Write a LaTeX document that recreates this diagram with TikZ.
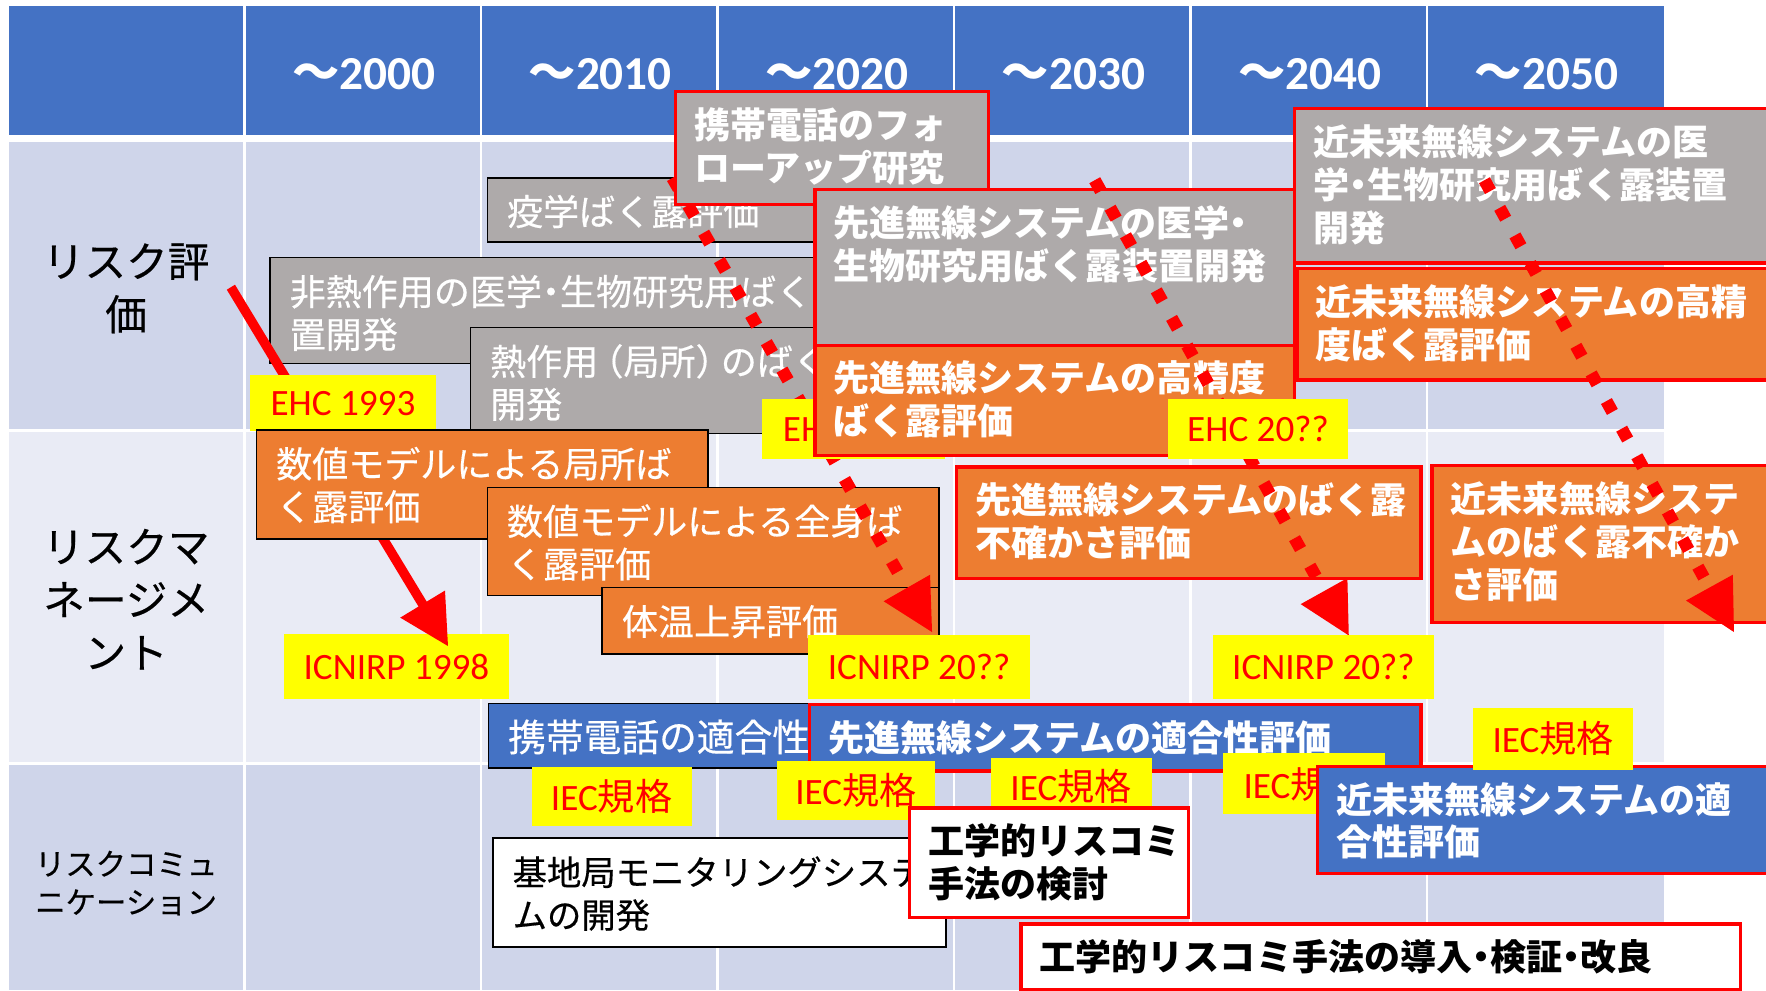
\documentclass[tikz,border=0pt]{standalone}
\usepackage{fontspec}
\setmainfont{Carlito}
\newfontfamily\jp{Noto Sans CJK JP}
\newfontfamily\jpm[FakeBold=0.4]{Noto Sans CJK JP}
\usetikzlibrary{arrows.meta}
\definecolor{hdr}{HTML}{4472C4}
\definecolor{rowA}{HTML}{CFD5EA}
\definecolor{rowB}{HTML}{E9EBF5}
\definecolor{gbox}{HTML}{AEAAAA}
\definecolor{obox}{HTML}{ED7D31}
\definecolor{bbox}{HTML}{4472C4}
\definecolor{ylw}{HTML}{FFFF00}
\definecolor{rd}{HTML}{FF0000}
\newcommand\dt{\hspace{-0.25em}・\hspace{-0.25em}}
\newcommand\lpar{\hspace{-0.3em}（}
\newcommand\rpar{）\hspace{-0.3em}}
\tikzset{
  boxk/.style={draw=black, line width=1.5pt, inner sep=0pt, anchor=north west},
  boxr/.style={draw=rd, line width=3pt, inner sep=0pt, anchor=north west},
  txt/.style={anchor=base west, inner sep=0pt, text width=700pt, align=left,
    font=\jpm\fontsize{32}{38}\selectfont},
  wt/.style={text=white},
  wtb/.style={text=white, font=\jp\bfseries\fontsize{32}{38}\selectfont},
  bkt/.style={text=black},
  bkb/.style={text=black, font=\jp\bfseries\fontsize{32}{38}\selectfont},
  lbl/.style={fill=ylw, text=rd, inner sep=0pt, font=\fontsize{33}{38}\selectfont},
  hdrtxt/.style={text=white, font=\bfseries\fontsize{42}{46}\selectfont},
  rowtxt/.style={text=black, align=center, font=\jpm\fontsize{37}{47}\selectfont},
  solidarrow/.style={draw=rd, line width=8.5pt, -{Triangle[length=44pt,width=44pt]}},
  dotarrow/.style={draw=rd, line width=11pt, dash pattern=on 11pt off 17pt,
    -{Triangle[length=46pt,width=44pt]}},
}
% name, style, fill, x, y, w, h, text style, text
\newcommand\tbox[9]{%
  \node[#2, fill=#3, minimum width=#6pt, minimum height=#7pt] (#1) at (#4,#5) {};
  \node[txt, #8] (#1t) at ([xshift=18pt,yshift=-43pt]#1.north west) {#9};
}
\begin{document}
\begin{tikzpicture}[x=1pt,y=-1pt]
\useasboundingbox (0,0) rectangle (1568,879);
\clip (0,0) rectangle (1568,879);
\fill[white] (0,0) rectangle (1568,879);
% table
\fill[hdr] (8,5) rectangle (1477,123);
\fill[rowA] (8,123) rectangle (1477,382);
\fill[rowB] (8,382) rectangle (1477,678);
\fill[rowA] (8,678) rectangle (1477,879);
\foreach \xx in {217,427,637,847,1057,1267}
  \draw[white, line width=2.5pt] (\xx,5) -- (\xx,879);
\draw[white, line width=6.5pt] (8,123) -- (1477,123);
\foreach \yy in {382,678}
  \draw[white, line width=2.5pt] (8,\yy) -- (1477,\yy);
% header texts
\node[hdrtxt] (h1) at (323,66) {{\jp\bfseries 〜}2000};
\node[hdrtxt] (h2) at (533,66) {{\jp\bfseries 〜}2010};
\node[hdrtxt] (h3) at (743,66) {{\jp\bfseries 〜}2020};
\node[hdrtxt] (h4) at (953,66) {{\jp\bfseries 〜}2030};
\node[hdrtxt] (h5) at (1163,66) {{\jp\bfseries 〜}2040};
\node[hdrtxt] (h6) at (1373,66) {{\jp\bfseries 〜}2050};
% row labels
\node[rowtxt] (r1) at (112,256) {リスク評\\価};
\node[rowtxt] (r2) at (112,532) {リスクマ\\ネージメ\\ント};
\node[rowtxt, font=\jpm\fontsize{27}{34}\selectfont] (r3) at (112,784) {リスクコミュ\\ニケーション};
% gray boxes (black border)
\tbox{g1}{boxk}{gbox}{432}{157}{310}{57}{wt}{疫学ばく露評価}
\tbox{g2}{boxk}{gbox}{239}{228}{570}{94}{wt}{非熱作用の医学\dt 生物研究用ばく露装\\置開発}
\tbox{g3}{boxk}{gbox}{417}{290}{400}{94}{wt}{熱作用\lpar 局所\rpar のばく露\\開発}
% ICNIRP 1998 and solid arrow
\node[lbl, minimum width=200pt, minimum height=58pt] (icn1) at (352,592) {ICNIRP 1998};
\coordinate (a0s) at (205,255);
\coordinate (a0e) at (398,574);
\draw[solidarrow] (a0s) -- (a0e);
\node[lbl, minimum width=165pt, minimum height=50pt] (ehc1) at (304.5,358) {EHC 1993};
% orange boxes (black border)
\tbox{o1}{boxk}{obox}{227}{381}{401}{97}{wt}{数値モデルによる局所ば\\く露評価}
\tbox{o2}{boxk}{obox}{432}{432}{401}{96}{wt}{数値モデルによる全身ば\\く露評価}
\tbox{o3}{boxk}{obox}{534}{521}{299}{59}{wt}{体温上昇評価}
% blue / white (black border)
\tbox{b1}{boxk}{bbox}{433}{624}{405}{57}{wt, font=\jpm\fontsize{33.5}{38}\selectfont}{携帯電話の適合性評価}
\node[lbl, minimum width=142pt, minimum height=52pt] (iec1) at (543,707) {IEC{\jp 規格}};
\tbox{w1}{boxk}{white}{437}{743}{402}{97}{bkt, font=\jpm\fontsize{30.5}{38}\selectfont}{基地局モニタリングシステ\\ムの開発}
% dotted arrow 1
\coordinate (a1s) at (597,158);
\coordinate (a1e) at (828,562);
\draw[dotarrow] (a1s) -- (a1e);
% red-bordered boxes
\tbox{gr1}{boxr}{gbox}{598}{80}{278}{100}{wtb}{携帯電話のフォ\\ローアップ研究}
\node[lbl, minimum width=162pt, minimum height=53pt] (ehc2) at (758,381) {EHC 20??};
\tbox{gr2}{boxr}{gbox}{722}{167}{426}{138}{wtb}{先進無線システムの医学\dt\\生物研究用ばく露装置開発}
\tbox{or1}{boxr}{obox}{722}{305}{426}{98}{wtb}{先進無線システムの高精度\\ばく露評価}
\tbox{or2}{boxr}{obox}{848}{413}{412}{99}{wtb}{先進無線システムのばく露\\不確かさ評価}
\node[lbl, minimum width=197pt, minimum height=57pt] (icn2) at (816,592) {ICNIRP 20??};
\tbox{br1}{boxr}{bbox}{717}{624}{543}{59}{wtb}{先進無線システムの適合性評価}
\node[lbl, minimum width=140pt, minimum height=52pt] (iec2) at (760,702) {IEC{\jp 規格}};
\node[lbl, minimum width=143pt, minimum height=50pt] (iec3) at (951,698) {IEC{\jp 規格}};
% dotted arrow 2
\coordinate (a2s) at (972,160);
\coordinate (a2e) at (1198,565);
\draw[dotarrow] (a2s) -- (a2e);
\node[lbl, minimum width=160pt, minimum height=53pt] (ehc3) at (1117,381) {EHC 20??};
% near-future boxes
\tbox{gr3}{boxr}{gbox}{1148}{95}{440}{137}{wtb}{近未来無線システムの医\\学\dt 生物研究用ばく露装置\\開発}
\tbox{or3}{boxr}{obox}{1150}{237}{440}{99}{wtb}{近未来無線システムの高精\\度ばく露評価}
\tbox{or4}{boxr}{obox}{1270}{412}{320}{139}{wtb}{近未来無線システ\\ムのばく露不確か\\さ評価}
% dotted arrow 3
\coordinate (a3s) at (1318,160);
\coordinate (a3e) at (1540,562);
\draw[dotarrow] (a3s) -- (a3e);
\node[lbl, minimum width=196pt, minimum height=57pt] (icn3) at (1175,592) {ICNIRP 20??};
\node[lbl, minimum width=144pt, minimum height=54pt] (iec4) at (1158,696) {IEC{\jp 規格}};
\tbox{br2}{boxr}{bbox}{1168}{679}{420}{95}{wtb}{近未来無線システムの適\\合性評価}
\node[lbl, minimum width=142pt, minimum height=55pt] (iec5) at (1379,656) {IEC{\jp 規格}};
\tbox{wr1}{boxr}{white}{806}{716}{248}{97}{bkb}{工学的リスコミ\\手法の検討}
\tbox{wr2}{boxr}{white}{905}{819}{639}{58}{bkb}{工学的リスコミ手法の導入\dt 検証\dt 改良}
\end{tikzpicture}
\end{document}
